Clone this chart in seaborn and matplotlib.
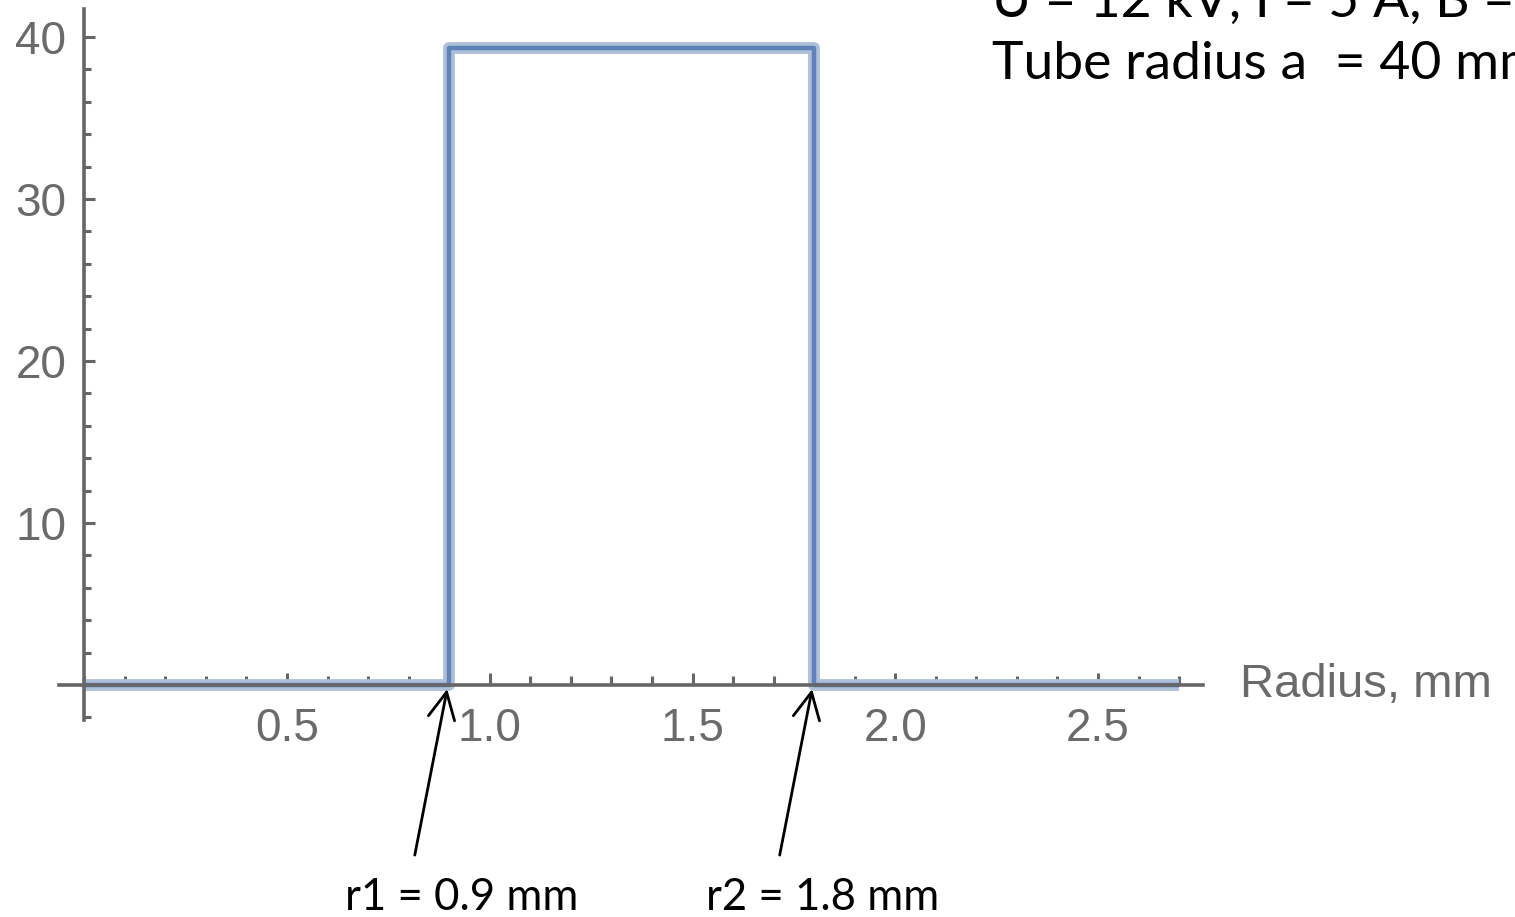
import numpy as np
import pandas as pd
import matplotlib
matplotlib.use("Agg")
import matplotlib.pyplot as plt
import seaborn as sns
from matplotlib.ticker import MultipleLocator, FixedLocator

# ---- data ----
r_edges = [0.0, 0.9, 1.8, 2.7]          # radius breakpoints, mm
density = [0.0, 39.3, 0.0]              # value on each interval
x_major = [0.5, 1.0, 1.5, 2.0, 2.5]
x_labels = ["0.5", "1.0", "1.5", "2.0", "2.5"]
y_major = [10, 20, 30, 40]
y_labels = ["10", "20", "30", "40"]
x_label = "Radius, mm"
r1_text = "r1 = 0.9 mm"
r2_text = "r2 = 1.8 mm"
r_marks = [0.9, 1.8]
header_lines = ["U = 12 kV, I = 5 A, B = 0.1 T", "Tube radius a  = 40 mm"]

# step data (steps-post: last value repeated at the final edge)
df = pd.DataFrame({"r": r_edges, "j": density + [density[-1]]})

sns.set_style("white")
plt.rcParams["font.family"] = ["Liberation Sans Narrow", "Liberation Sans", "DejaVu Sans"]

W, H = 1515, 917
fig = plt.figure(figsize=(W / 100, H / 100), dpi=100)
ax = fig.add_axes([59 / W, (H - 720) / H, (1203 - 59) / W, (720 - 9) / H])

gray = "#666666"
line_light = "#aebfd9"
line_dark = "#5f83b9"

sns.lineplot(data=df, x="r", y="j", drawstyle="steps-post", estimator=None,
             color=line_light, linewidth=8.5, ax=ax, solid_capstyle="butt", zorder=2)
sns.lineplot(data=df, x="r", y="j", drawstyle="steps-post", estimator=None,
             color=line_dark, linewidth=3.2, ax=ax, solid_capstyle="butt", zorder=3)

ax.set_xlim(-0.0624, 2.759)
ax.set_ylim(-2.16, 41.73)
ax.set_xlabel("")
ax.set_ylabel("")

for s in ["top", "right"]:
    ax.spines[s].set_visible(False)
ax.spines["left"].set_position(("data", 0))
ax.spines["bottom"].set_position(("data", 0))
for s in ["left", "bottom"]:
    ax.spines[s].set_color(gray)
    ax.spines[s].set_linewidth(2.6)
    ax.spines[s].set_zorder(4)

ax.xaxis.set_major_locator(FixedLocator(x_major))
ax.set_xticklabels(x_labels)
ax.xaxis.set_minor_locator(MultipleLocator(0.1))
ax.yaxis.set_major_locator(FixedLocator(y_major))
ax.set_yticklabels(y_labels)
ax.yaxis.set_minor_locator(MultipleLocator(2))

ax.tick_params(axis="x", which="both", bottom=True, top=False)
ax.tick_params(axis="y", which="both", left=True, right=False)
ax.tick_params(axis="x", which="major", direction="in", length=9, width=2.2,
               color=gray, labelcolor="#6a6a6a", labelsize=33, pad=16)
ax.tick_params(axis="x", which="minor", direction="in", length=6.3, width=2.2, color=gray)
ax.tick_params(axis="y", which="major", direction="in", length=8, width=2.2,
               color=gray, labelcolor="#6a6a6a", labelsize=33, pad=13)
ax.tick_params(axis="y", which="minor", direction="in", length=5, width=2.2, color=gray)
for t in ax.xaxis.get_major_ticks() + ax.xaxis.get_minor_ticks() + ax.yaxis.get_major_ticks() + ax.yaxis.get_minor_ticks():
    t.tick1line.set_zorder(5)

# axis label at right end of x axis
ax.text(2.85, 0, x_label, transform=ax.transData, ha="left", va="center",
        fontsize=34, color="#6a6a6a", clip_on=False)

# arrows pointing at r1, r2
for xm in r_marks:
    ax.annotate("", xy=(xm - 0.005, -0.25), xycoords="data",
                xytext=(xm - 0.085, -10.5), textcoords="data",
                arrowprops=dict(arrowstyle="->", color="black", lw=2.0,
                                mutation_scale=48, shrinkA=0, shrinkB=0),
                annotation_clip=False)

cal = ["Lato", "DejaVu Sans"]
fig.text(462 / W, 1 - 897 / H, r1_text, ha="center", va="center",
         fontsize=31.5, family=cal, color="black")
fig.text(823 / W, 1 - 897 / H, r2_text, ha="center", va="center",
         fontsize=31.5, family=cal, color="black")

fig.text(992 / W, 1 - 17 / H, header_lines[0], ha="left", va="baseline",
         fontsize=38.5, family=cal, color="black")
fig.text(992 / W, 1 - 79 / H, header_lines[1], ha="left", va="baseline",
         fontsize=38.5, family=cal, color="black")

fig.savefig("out.png", dpi=100)
